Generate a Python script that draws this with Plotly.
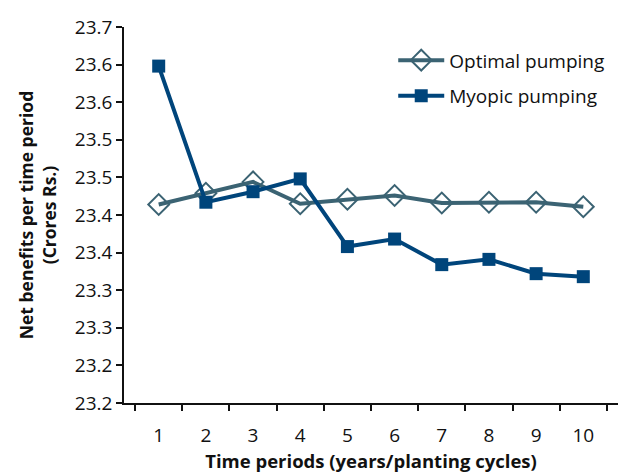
import plotly.graph_objects as go

# time periods (categories) and net benefits (Crores Rs.)
periods = ["1", "2", "3", "4", "5", "6", "7", "8", "9", "10"]
optimal = [23.464, 23.479, 23.494, 23.465, 23.471, 23.476, 23.466, 23.467, 23.467, 23.461]
myopic = [23.648, 23.467, 23.481, 23.498, 23.408, 23.418, 23.384, 23.391, 23.372, 23.368]

# y tick positions and the (rounded) labels shown on the axis
y_ticks = [23.20, 23.25, 23.30, 23.35, 23.40, 23.45, 23.50, 23.55, 23.60, 23.65, 23.70]
y_labels = ["23.2", "23.2", "23.3", "23.3", "23.4", "23.4", "23.5", "23.5", "23.6", "23.6", "23.7"]

FONT = "Open Sans, Liberation Sans, sans-serif"
INK = "#111111"

fig = go.Figure()

fig.add_trace(go.Scatter(
    x=periods, y=optimal, name="Optimal pumping",
    mode="lines+markers", legendgroup="opt",
    line=dict(color="#3b6373", width=4),
    marker=dict(symbol="diamond-open", size=16, color="#3b6373",
                line=dict(width=2, color="#3b6373")),
))

fig.add_trace(go.Scatter(
    x=periods, y=myopic, name="Myopic pumping",
    mode="lines+markers", legendgroup="myo",
    line=dict(color="#00457b", width=4),
    marker=dict(symbol="square", size=13, color="#00457b"),
))

fig.update_layout(
    width=624, height=473,
    margin=dict(l=124, r=6, t=27, b=70),
    plot_bgcolor="white", paper_bgcolor="white",
    font=dict(family=FONT, size=19, color=INK),
    showlegend=True,
    legend=dict(x=0.545, y=0.962, xanchor="left", yanchor="top",
                bgcolor="rgba(0,0,0,0)", font=dict(size=19, color=INK),
                itemwidth=46, tracegroupgap=8),
)

fig.update_xaxes(
    type="category", automargin=False,
    tickson="boundaries",
    ticks="outside", ticklen=6, tickwidth=1.5, tickcolor=INK,
    ticklabelstandoff=14,
    showline=True, linecolor=INK, linewidth=1.5,
    showgrid=False, zeroline=False,
    tickfont=dict(size=19, color=INK),
    title=dict(text="<b>Time periods (years/planting cycles)</b>",
               font=dict(size=18.5, color=INK), standoff=10),
)

fig.update_yaxes(
    range=[23.2, 23.7], automargin=False,
    tickvals=y_ticks, ticktext=y_labels,
    ticks="outside", ticklen=6, tickwidth=1.5, tickcolor=INK,
    showline=True, linecolor=INK, linewidth=1.5,
    showgrid=False, zeroline=False,
    tickfont=dict(size=19, color=INK),
    title=dict(text="<b>Net benefits per time period<br>(Crores Rs.)</b>",
               font=dict(size=17.5, color=INK), standoff=14),
)

# drop the browser's default page margin so the figure sits at (0, 0)
fig.write_html("out.html", config={"displayModeBar": False},
               post_script="document.body.style.margin = '0';")
